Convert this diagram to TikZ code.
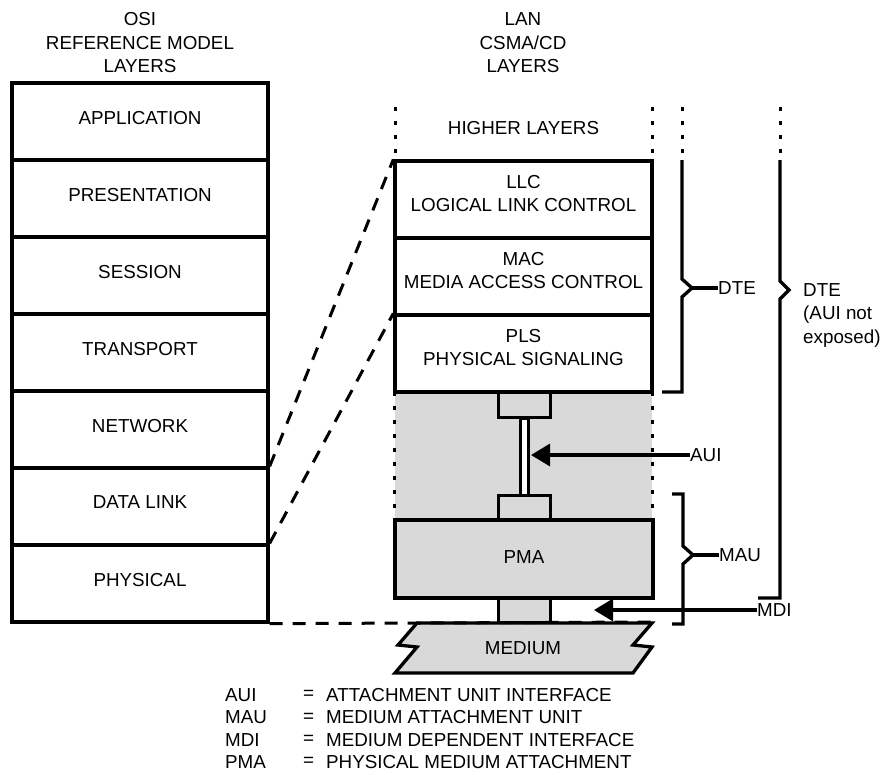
\documentclass[tikz,border=0pt]{standalone}
\usepackage{fontspec}
\setmainfont{Liberation Sans}
\usetikzlibrary{arrows.meta}

\tikzset{
  layerbox/.style={draw, line width=3.3pt, minimum width=256pt, minimum height=77pt, align=center},
  lift/.style={execute at end node={\rule[-#1]{0pt}{#1}}},
  plug/.style={draw, fill=black!15, line width=3pt, minimum width=52pt, minimum height=25pt, inner sep=0pt},
  lbl/.style={inner sep=0pt},
  dashline/.style={line width=3pt, dash pattern=on 13pt off 10pt},
  dotline/.style={line width=3pt, dash pattern=on 4pt off 10pt},
  bracket/.style={line width=3.3pt, line join=miter},
  pointer/.style={line width=3.3pt, -{Triangle[length=19pt, width=22pt]}}
}

\begin{document}
\begin{tikzpicture}[x=1pt, y=-1pt, every node/.style={font=\fontsize{18.8}{23.5}\selectfont}]
  \useasboundingbox (0,0) rectangle (881,774);

  \node[align=center] (ositop) at (140,43) {OSI\\REFERENCE MODEL\\LAYERS};
  \node[align=center] (lantop) at (523,43) {LAN\\CSMA/CD\\LAYERS};

  % OSI stack
  \foreach \nm/\txt [count=\i from 0] in {app/APPLICATION, pres/PRESENTATION, sess/SESSION,
      trans/TRANSPORT, net/NETWORK, dlink/DATA LINK, phys/PHYSICAL}
    \node[layerbox, lift=8pt] (\nm) at (140,121.5+77*\i) {\txt};

  % AUI zone and plugs
  \node[fill=black!15, minimum width=257pt, minimum height=128pt, inner sep=0pt] (zone) at (523.5,456) {};
  \draw[dotline] (zone.north west) -- (zone.south west);
  \draw[dotline] (zone.north east) -- (zone.south east);
  \node[draw, fill=white, line width=3pt, minimum width=8pt, minimum height=77pt, inner sep=0pt] (cable) at (524,456.5) {};
  \node[plug] (plugtop) at (524,404.5) {};
  \node[plug] (plugbot) at (524,507.5) {};
  \node[plug] (plugmdi) at (524,610) {};

  % LAN stack
  \node[layerbox, minimum width=257pt, lift=12pt] (llc) at (523.5,199.5) {LLC\\LOGICAL LINK CONTROL};
  \node[layerbox, minimum width=257pt, lift=12pt] (mac) at (523.5,276.5) {MAC\\MEDIA ACCESS CONTROL};
  \node[layerbox, minimum width=257pt, lift=12pt] (pls) at (523.5,353.5) {PLS\\PHYSICAL SIGNALING};
  \node[layerbox, fill=black!15, minimum width=258pt, minimum height=78pt, lift=4pt] (pma) at (524,559) {PMA};
  \node (higher) at (523.5,128) {HIGHER LAYERS};
  \draw[dotline] (395,107) -- (395,155);
  \draw[dotline] (652,107) -- (652,155);

  % medium
  \filldraw[fill=black!15, line width=3.3pt, line join=miter] (417,623) -- (652,623) -- (633,645) -- (652,647)
    -- (633,673) -- (395,673) -- (417,647) -- (398,645) -- cycle;
  \node (medium) at (523,648) {MEDIUM};
  \coordinate (medtr) at (652,622);

  % mapping lines
  \draw[dashline] (dlink.north east) -- (llc.north west);
  \draw[dashline] (phys.north east) -- (pls.north west);
  \draw[dashline] (phys.south east) -- (medtr);

  % brackets
  \draw[dotline] (682,107) -- (682,155);
  \draw[bracket] (682,160) -- (682,279) -- (692,288) -- (682,297) -- (682,392) -- (662,392);
  \node[lbl, anchor=west] (dte) at (718,288) {DTE};
  \draw[line width=3.3pt] (692,288) -- (dte.west);

  \draw[dotline] (780,107) -- (780,155);
  \draw[bracket] (780,160) -- (780,281) -- (789,290) -- (780,299) -- (780,598) -- (758,598);
  \node[lbl, anchor=west, align=left] (dteall) at (803,315) {DTE\\(AUI not\\exposed)};

  \draw[bracket] (672,494) -- (683,494) -- (683,546) -- (693,555) -- (683,564) -- (683,624) -- (672,624);
  \node[lbl, anchor=west] (mau) at (719,555) {MAU};
  \draw[line width=3.3pt] (693,555) -- (mau.west);

  % pointers
  \node[lbl, anchor=west] (aui) at (690,455) {AUI};
  \coordinate (auitip) at (531,455);
  \draw[pointer] (aui.west) -- (auitip);
  \node[lbl, anchor=west] (mdi) at (757,610) {MDI};
  \coordinate (mditip) at (594,610);
  \draw[pointer] (mdi.west) -- (mditip);

  % key
  \foreach \ab/\full [count=\i from 0] in {AUI/ATTACHMENT UNIT INTERFACE, MAU/MEDIUM ATTACHMENT UNIT,
      MDI/MEDIUM DEPENDENT INTERFACE, PMA/PHYSICAL MEDIUM ATTACHMENT} {
    \node[lbl, anchor=west] (key\i) at (225,695+22.4*\i) {\ab};
    \node[lbl, anchor=west] (eq\i) at (303,695+22.4*\i) {=};
    \node[lbl, anchor=west] (def\i) at (326,695+22.4*\i) {\full};
  }
\end{tikzpicture}
\end{document}
